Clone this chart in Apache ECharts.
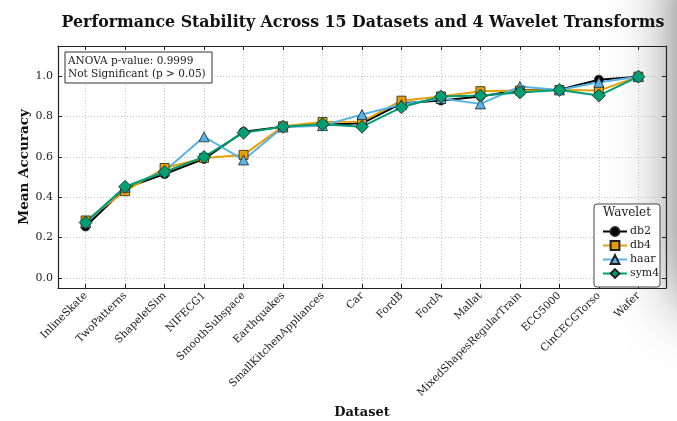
<!DOCTYPE html>
<html>
<head>
<meta charset="utf-8">
<script src="https://cdn.jsdelivr.net/npm/echarts@6/dist/echarts.min.js"></script>
<style>
  html, body { margin: 0; padding: 0; background: #fff; }
  #chart { width: 677px; height: 421px; }
</style>
</head>
<body>
<div id="chart"></div>
<script>
const datasets = [
  "InlineSkate", "TwoPatterns", "ShapeletSim", "NIFECG1", "SmoothSubspace",
  "Earthquakes", "SmallKitchenAppliances", "Car", "FordB", "FordA",
  "Mallat", "MixedShapesRegularTrain", "ECG5000", "CinCECGTorso", "Wafer",
];
const db2 = [0.255, 0.445, 0.515, 0.59, 0.725, 0.75, 0.76, 0.767, 0.866, 0.88, 0.90, 0.932, 0.933, 0.983, 0.998];
const db4 = [0.285, 0.43, 0.545, 0.595, 0.61, 0.752, 0.773, 0.775, 0.879, 0.90, 0.926, 0.929, 0.932, 0.929, 0.998];
const haar = [0.275, 0.45, 0.53, 0.70, 0.585, 0.748, 0.755, 0.81, 0.86, 0.89, 0.863, 0.949, 0.932, 0.97, 0.998];
const sym4 = [0.275, 0.452, 0.525, 0.60, 0.72, 0.75, 0.762, 0.75, 0.846, 0.90, 0.904, 0.92, 0.932, 0.904, 0.998];
const yTicks = [0, 0.2, 0.4, 0.6, 0.8, 1.0];

const FONT = "DejaVu Serif";
const xTicks = datasets.map((d, i) => i);

const waveletSeries = [
  { name: "db2", data: db2, color: "#000000", symbol: "circle", size: 9 },
  { name: "db4", data: db4, color: "#E69F00", symbol: "rect", size: 9 },
  { name: "haar", data: haar, color: "#56B4E9", symbol: "triangle", size: 10 },
  { name: "sym4", data: sym4, color: "#009E73", symbol: "diamond", size: 13 },
];

const gridLine = { show: true, lineStyle: { color: "#b5b5b5", type: [1, 2], width: 0.8 } };
const spine = { show: true, onZero: false, lineStyle: { color: "#222", width: 1.2 } };

function xAxis(pos, labels) {
  return {
    type: "value",
    position: pos,
    min: -0.7,
    max: 14.7,
    axisLine: spine,
    axisTick: { show: true, inside: true, length: 4, customValues: xTicks, lineStyle: { color: "#222" } },
    axisLabel: labels
      ? {
          customValues: xTicks,
          rotate: 45,
          margin: 6,
          fontFamily: FONT,
          fontSize: 10.5,
          color: "#222",
          formatter: (v) => datasets[Math.round(v)] || "",
        }
      : { show: false },
    splitLine: labels ? gridLine : { show: false },
    name: labels ? "Dataset" : "",
    nameLocation: "middle",
    nameGap: 118,
    nameTextStyle: { fontFamily: FONT, fontWeight: "bold", fontSize: 13, color: "#111" },
  };
}

function yAxis(pos, labels) {
  return {
    type: "value",
    position: pos,
    min: -0.05,
    max: 1.15,
    axisLine: spine,
    axisTick: { show: true, inside: true, length: 4, customValues: yTicks, lineStyle: { color: "#222" } },
    axisLabel: labels
      ? {
          customValues: yTicks,
          margin: 5,
          fontFamily: FONT,
          fontSize: 11,
          color: "#222",
          formatter: (v) => v.toFixed(1),
        }
      : { show: false },
    splitLine: labels ? gridLine : { show: false },
    name: labels ? "Mean Accuracy" : "",
    nameLocation: "middle",
    nameGap: 27,
    nameMoveOverlap: false,
    nameTextStyle: { fontFamily: FONT, fontWeight: "bold", fontSize: 13.5, color: "#111" },
  };
}

const chart = echarts.init(document.getElementById("chart"), null, { renderer: "canvas" });

chart.setOption({
  animation: false,
  backgroundColor: "#fff",
  title: {
    text: "Performance Stability Across 15 Datasets and 4 Wavelet Transforms",
    left: 358,
    textAlign: "center",
    top: 10,
    textStyle: { fontFamily: FONT, fontWeight: "bold", fontSize: 15.8, color: "#111" },
  },
  grid: { left: 58, top: 46, width: 608, height: 242, outerBoundsMode: "none" },
  xAxis: [xAxis("bottom", true), xAxis("top", false)],
  yAxis: [yAxis("left", true), yAxis("right", false)],
  legend: {
    orient: "vertical",
    left: 597,
    top: 221,
    itemGap: 3,
    itemWidth: 24,
    itemHeight: 11,
    textStyle: { fontFamily: FONT, fontSize: 11, color: "#222", padding: [0, 0, 0, -2] },
    data: waveletSeries.map((s) => s.name),
  },
  graphic: [
    {
      type: "rect",
      z: -10,
      silent: true,
      shape: { x: 700, y: -60, width: 80, height: 360 },
      style: { fill: "#777", shadowBlur: 70, shadowColor: "rgba(0,0,0,0.8)", shadowOffsetX: -10 },
    },
    {
      type: "rect",
      z: 5,
      shape: { x: 65, y: 52, width: 147, height: 31 },
      style: { fill: "#fff", stroke: "#333", lineWidth: 1 },
    },
    {
      type: "text",
      z: 6,
      x: 68,
      y: 54.5,
      style: {
        text: "ANOVA p-value: 0.9999\nNot Significant (p > 0.05)",
        font: "10.5px 'DejaVu Serif'",
        lineHeight: 13,
        fill: "#222",
      },
    },
    {
      type: "rect",
      z: 4,
      shape: { x: 594, y: 204, width: 66, height: 83, r: 3 },
      style: { fill: "#fff", stroke: "#444", lineWidth: 1 },
    },
    {
      type: "text",
      z: 6,
      x: 627,
      y: 207,
      style: { text: "Wavelet", font: "12px 'DejaVu Serif'", fill: "#222", align: "center" },
    },
  ],
  series: waveletSeries.map((s) => ({
    name: s.name,
    type: "line",
    xAxisIndex: 0,
    yAxisIndex: 0,
    data: s.data.map((v, i) => [i, v]),
    symbol: s.symbol,
    symbolSize: s.size,
    lineStyle: { color: s.color, width: 2 },
    itemStyle: { color: s.color, borderColor: "#222", borderWidth: 0.8 },
    z: 3,
  })),
});
</script>
</body>
</html>
